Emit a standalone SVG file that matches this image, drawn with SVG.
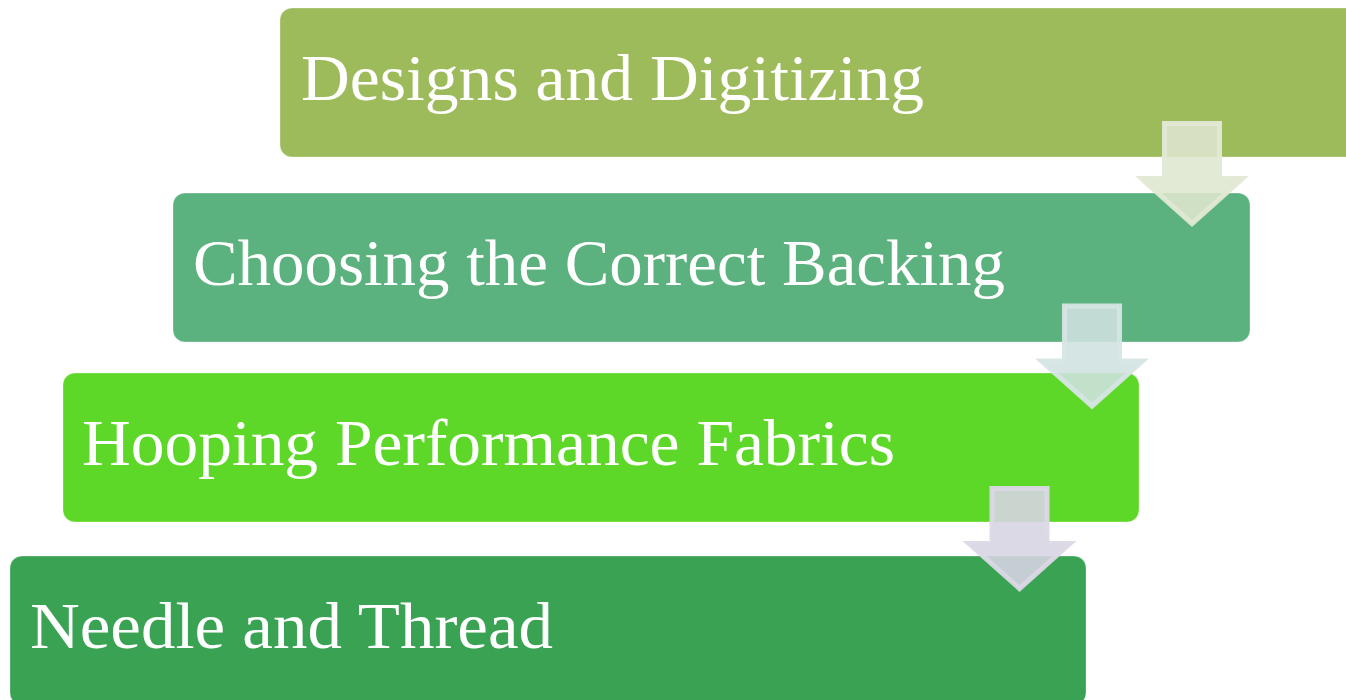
<svg xmlns="http://www.w3.org/2000/svg" width="1346" height="700" viewBox="0 0 1346 700">
<style>
.box{stroke:#fff;stroke-opacity:.3;stroke-width:1}
.label{font-family:"Liberation Serif","DejaVu Serif",serif;font-size:65px;fill:#fff}
.arrow{stroke-width:5;stroke-miterlimit:12}
</style>
<defs>
<polygon id="down" points="-27.5,2.5 27.5,2.5 27.5,57.5 50.5,57.5 0,102.6 -50.5,57.5 -27.5,57.5"/>
</defs>
<rect width="1346" height="700" fill="#fff"/>
<g id="node-designs"><rect class="box" x="280" y="8" width="1090" height="149" rx="12" fill="#9dbb5a"/><text class="label" x="301" y="100" textLength="623" lengthAdjust="spacingAndGlyphs">Designs and Digitizing</text></g>
<g id="node-backing"><rect class="box" x="173" y="193" width="1077" height="149" rx="12" fill="#5cb27e"/><text class="label" x="193" y="285" textLength="812" lengthAdjust="spacingAndGlyphs">Choosing the Correct Backing</text></g>
<g id="node-hooping"><rect class="box" x="63" y="373" width="1076" height="149" rx="12" fill="#5dd828"/><text class="label" x="82" y="465" textLength="813" lengthAdjust="spacingAndGlyphs">Hooping Performance Fabrics</text></g>
<g id="node-needle"><rect class="box" x="10" y="556" width="1076" height="149" rx="12" fill="#3aa253"/><text class="label" x="30" y="648" textLength="523" lengthAdjust="spacingAndGlyphs">Needle and Thread</text></g>
<g id="connectors">
<use href="#down" class="arrow" transform="translate(1192 121)" style="fill:rgba(222,230,207,.885);stroke:rgba(226,233,213,.95)"/>
<use href="#down" class="arrow" transform="translate(1092 303.500)" style="fill:rgba(208,226,224,.885);stroke:rgba(214,229,229,.95)"/>
<use href="#down" class="arrow" transform="translate(1019.500 486)" style="fill:rgba(216,212,228,.885);stroke:rgba(220,216,230,.95)"/>
</g>
</svg>
